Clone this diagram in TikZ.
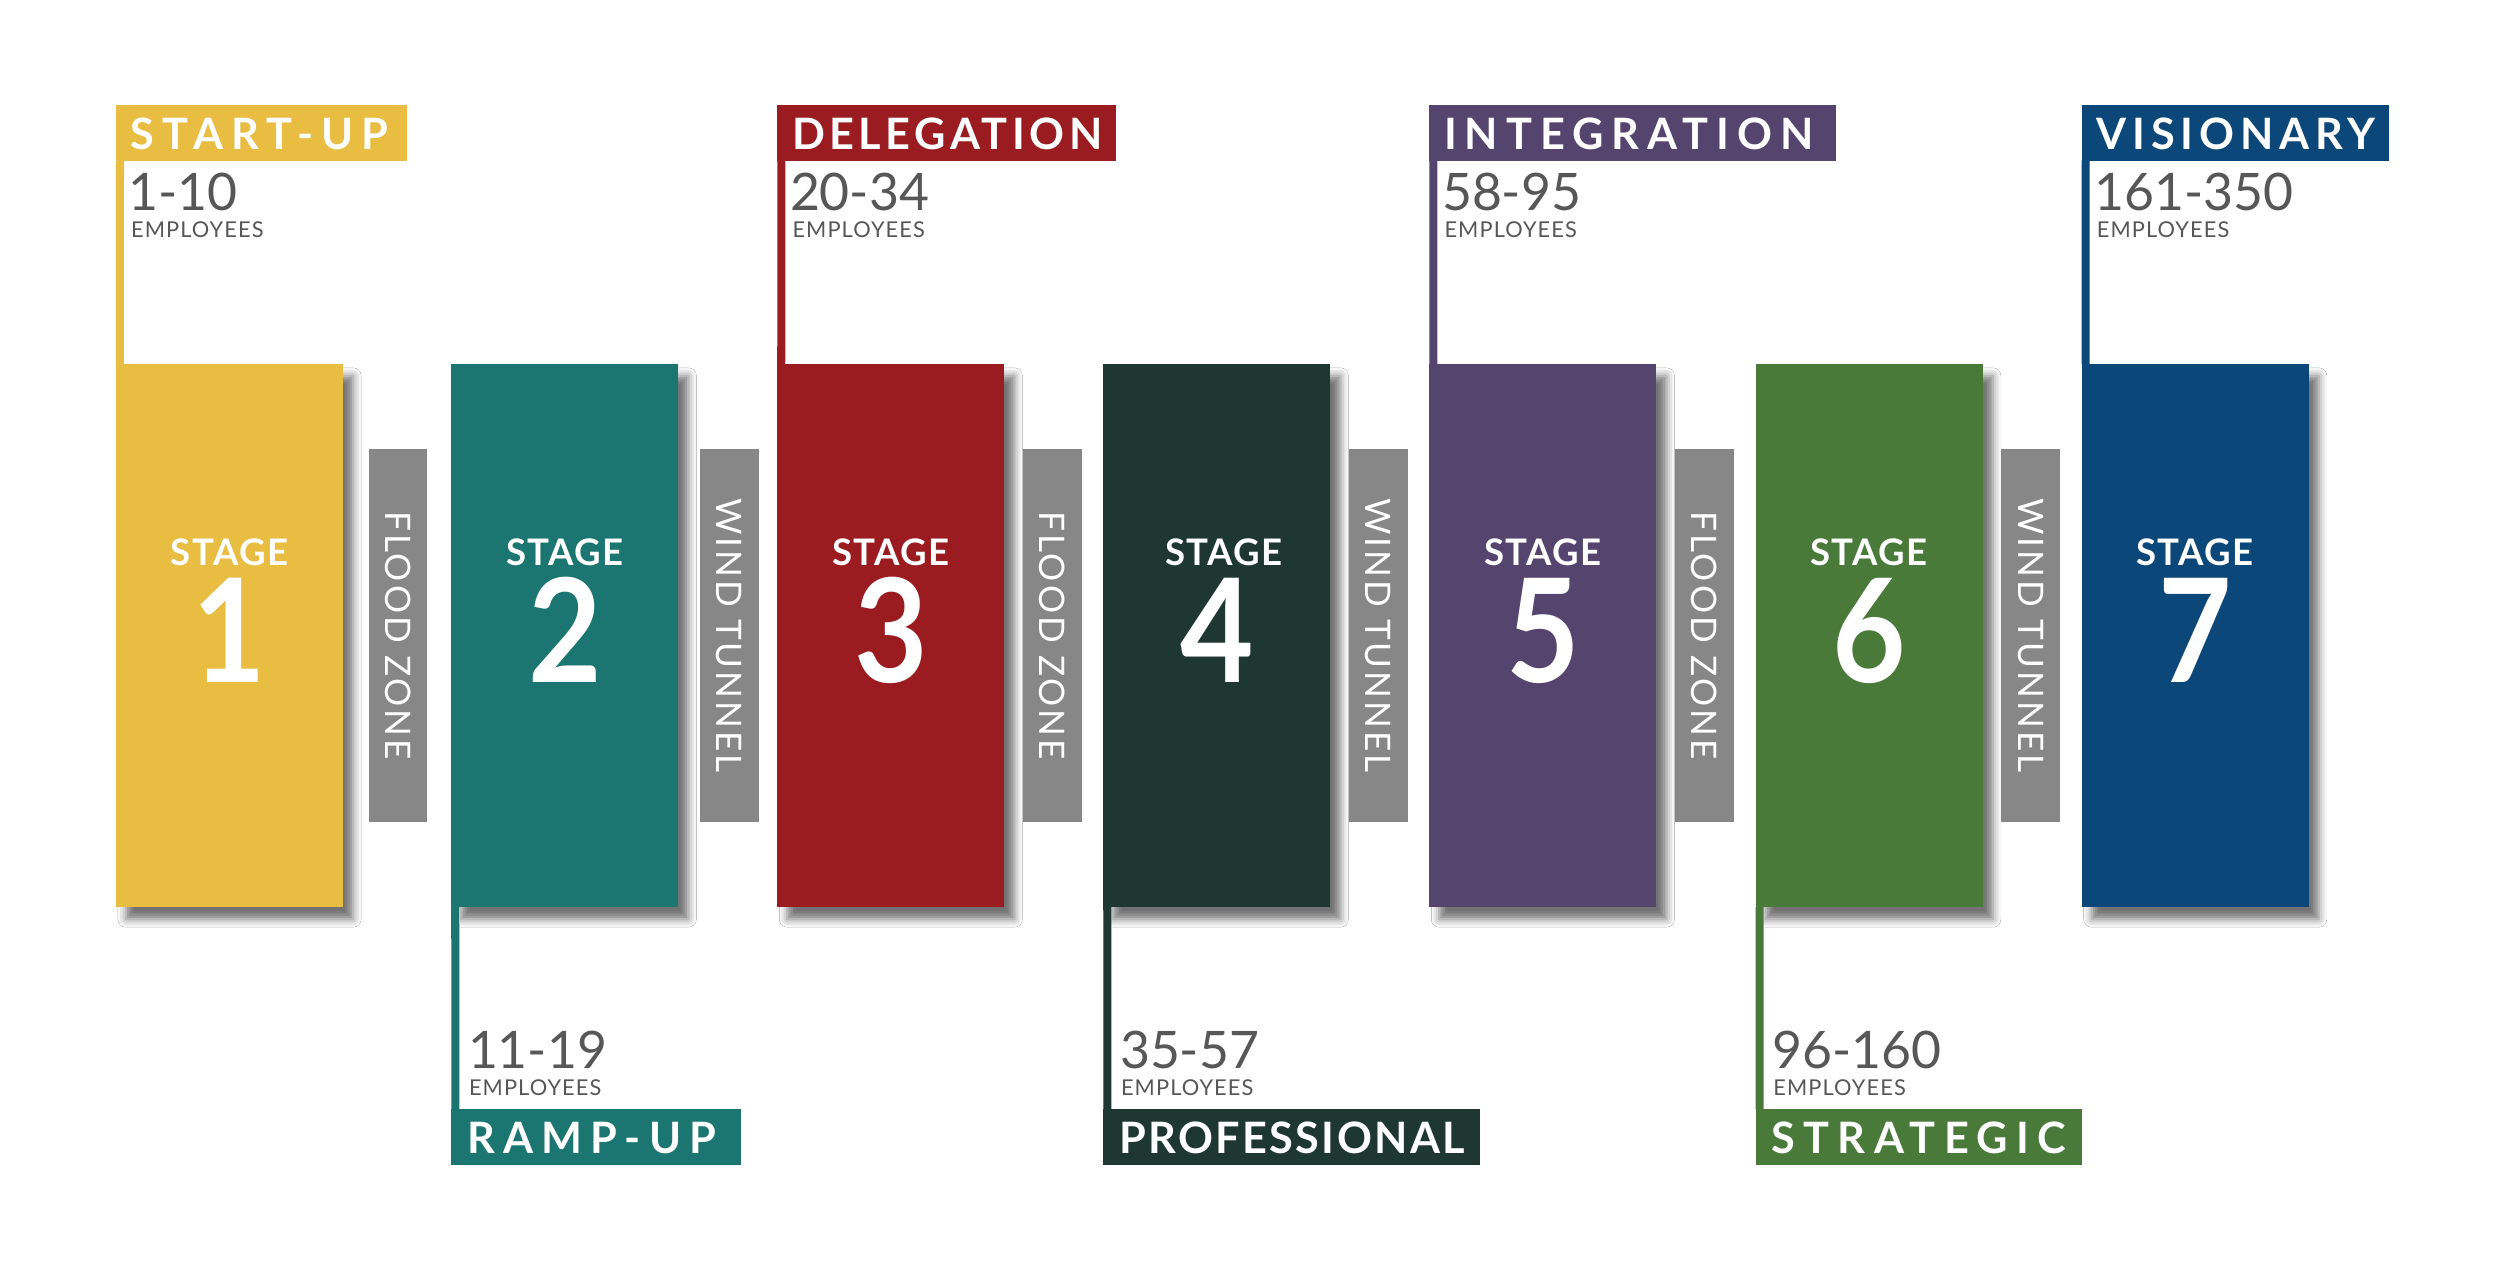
\documentclass[tikz,border=0pt]{standalone}
\usepackage{fontspec}
\setmainfont{Lato}
\newfontfamily\barfont[LetterSpace=8.5]{Lato}
\newfontfamily\empfont[LetterSpace=5]{Lato}
\newfontfamily\stagefont[LetterSpace=4]{Lato}
\usetikzlibrary{shadows.blur}
\definecolor{cA}{HTML}{E8BD42}
\definecolor{cB}{HTML}{1B7570}
\definecolor{cC}{HTML}{9A1B20}
\definecolor{cD}{HTML}{1E3831}
\definecolor{cE}{HTML}{55446E}
\definecolor{cF}{HTML}{4A7A3A}
\definecolor{cG}{HTML}{0C4779}
\definecolor{barg}{HTML}{868786}
\definecolor{numgray}{HTML}{575757}
\tikzset{
  stagebox/.style={rectangle, inner sep=0pt, outer sep=0pt, minimum width=2.27cm, minimum height=5.43cm,
    blur shadow={shadow xshift=0.1cm, shadow yshift=-0.12cm, shadow blur radius=0.08cm, shadow opacity=55}},
  graybar/.style={rectangle, fill=barg, inner sep=0pt, outer sep=0pt, rotate=-90,
    minimum width=3.73cm, minimum height=0.586cm, text=white, font=\barfont\fontsize{10}{10}\selectfont},
  labbox/.style={rectangle, inner sep=0pt, outer sep=0pt, anchor=north west, minimum height=0.557cm},
  labtext/.style={anchor=base west, inner sep=0pt, text=white, font=\bfseries\fontsize{12.3}{12.3}\selectfont},
  numtext/.style={anchor=base west, inner sep=0pt, text=numgray, font=\fontsize{14.7}{14.7}\selectfont},
  emptext/.style={anchor=base west, inner sep=0pt, text=numgray, font=\empfont\fontsize{6.2}{6.5}\selectfont},
  stagetext/.style={anchor=base, inner sep=0pt, text=white, font=\stagefont\bfseries\fontsize{10.4}{10.4}\selectfont},
  digittext/.style={anchor=base, inner sep=0pt, text=white, font=\bfseries\fontsize{41}{41}\selectfont},
  conn/.style={line width=0.08cm}
}
\begin{document}
\begin{tikzpicture}[x=0.01cm, y=-0.01cm]
\fill[white] (0,0) rectangle (2500,1272);
\useasboundingbox (0,0) rectangle (2500,1272);
% stage boxes
\foreach \i/\cx/\col/\sx in {1/229.5/cA/0, 2/564.8/cB/0, 3/890.8/cC/0, 4/1216.8/cD/7, 5/1542.8/cE/0, 6/1869.2/cF/0, 7/2195.2/cG/0} {
  \node[stagebox, fill=\col] (s\i) at (\cx,635.5) {};
  \node[stagetext] (st\i) at (\cx+\sx,565) {STAGE};
  \node[digittext] (d\i) at (\cx,682) {\scalebox{0.88}[1]{\i}};
}
% gray bars
\node[graybar] (g1) at (398,635.5) {FLOOD ZONE};
\node[graybar] (g2) at (729.3,635.5) {WIND TUNNEL};
\node[graybar] (g3) at (1052.3,635.5) {FLOOD ZONE};
\node[graybar] (g4) at (1378.3,635.5) {WIND TUNNEL};
\node[graybar] (g5) at (1704.3,635.5) {FLOOD ZONE};
\node[graybar] (g6) at (2030.6,635.5) {WIND TUNNEL};
% top labels
\foreach \i/\lx/\w/\col/\txt/\num/\ls in {1/116/2.91/cA/START-UP/1-10/18.5, 3/777.3/3.38/cC/DELEGATION/20-34/10.5, 5/1429.3/4.06/cE/INTEGRATION/58-95/18.5, 7/2081.7/3.07/cG/VISIONARY/161-350/13.5} {
  \node[labbox, fill=\col, minimum width=\w cm] (t\i) at (\lx,105) {};
  \node[labtext] (tt\i) at (\lx+14,149.3) {\addfontfeature{LetterSpace=\ls}\txt};
  \node[numtext] (n\i) at (\lx+12,210) {\num};
  \node[emptext] (e\i) at (\lx+14.5,237.3) {EMPLOYEES};
  \draw[conn, draw=\col] ([xshift=0.04cm]t\i.south west) -- ([xshift=0.04cm]s\i.north west);
}
% bottom labels
\foreach \i/\lx/\w/\col/\txt/\num/\ls in {2/451.3/2.90/cB/RAMP-UP/11-19/19, 4/1103.3/3.76/cD/PROFESSIONAL/35-57/5.6, 6/1755.7/3.26/cF/STRATEGIC/96-160/19.5} {
  \node[labbox, fill=\col, minimum width=\w cm] (b\i) at (\lx,1109.3) {};
  \node[labtext] (bt\i) at (\lx+15,1153.3) {\addfontfeature{LetterSpace=\ls}\txt};
  \node[numtext] (n\i) at (\lx+16,1068.3) {\num};
  \node[emptext] (e\i) at (\lx+17,1095.7) {EMPLOYEES};
  \draw[conn, draw=\col] ([xshift=0.04cm]s\i.south west) -- ([xshift=0.04cm]b\i.north west);
}
\end{tikzpicture}
\end{document}
